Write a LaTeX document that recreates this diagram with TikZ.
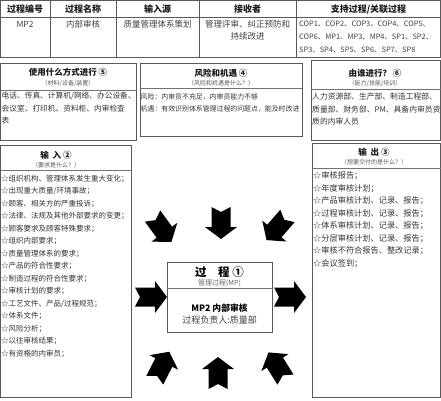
\documentclass[tikz,border=0pt]{standalone}
\usepackage{fontspec}
\setmainfont{Noto Sans CJK SC}
\tikzset{
 frame/.style={draw=black!65, line width=0.7pt},
 sep/.style={draw=black!55, line width=0.5pt},
 hd/.style={font=\fontsize{9}{10}\selectfont\bfseries, text=black!90, inner sep=0},
 cell/.style={font=\fontsize{8.5}{10}\selectfont, text=black!75, inner sep=0},
 copt/.style={font=\fontsize{7.4}{9}\selectfont, text=black!75, inner sep=0, anchor=west},
 ttl/.style={font=\fontsize{8.5}{10}\selectfont\bfseries, text=black!90, inner sep=0},
 sub/.style={font=\fontsize{6}{7}\selectfont, text=black!65, inner sep=0},
 body/.style={text=black!80, anchor=west, inner sep=0},
 blockarrow/.pic={\fill[black] (-16,9.5) -- (4,9.5) -- (4,16) -- (16,0) -- (4,-16) -- (4,-9.5) -- (-16,-9.5) -- (-11,0) -- cycle;}
}
\begin{document}
\begin{tikzpicture}[x=1pt,y=-1pt]
\useasboundingbox (0,0) rectangle (441,400);
% ---------- top table ----------
\draw[frame] (0.5,0.5) rectangle (440.5,57);
\draw[frame] (0.5,17) -- (440.5,17);
\foreach \cx in {50,116,199,296} \draw[frame] (\cx,0.5) -- (\cx,57);
\node[hd] (h1) at (25,9) {过程编号};
\node[hd] (h2) at (83,9) {过程名称};
\node[hd] (h3) at (157.5,9) {输入源};
\node[hd] (h4) at (247.5,9) {接收者};
\node[hd] (h5) at (368.5,9) {支持过程/关联过程};
\node[cell] (c1) at (25,24) {MP2};
\node[cell] (c2) at (83,24) {内部审核};
\node[cell] (c3) at (157.5,24) {质量管理体系策划};
\node[cell] (c4a) at (247.5,24) {管理评审、纠正预防和};
\node[cell] (c4b) at (247.5,36) {持续改进};
\node[copt] (c5a) at (299,24) {COP1、COP2、COP3、COP4、COP5、};
\node[copt] (c5b) at (299,37) {COP6、MP1、MP3、MP4、SP1、SP2、};
\node[copt] (c5c) at (299,50) {SP3、SP4、SP5、SP6、SP7、SP8};
% ---------- box 5 ----------
\draw[frame] (0.5,63) rectangle (136,140);
\draw[sep] (0.5,90) -- (136,90);
\node[ttl] (t5) at (68,72) {使用什么方式进行 ⑤};
\node[sub] (s5) at (68,83) {（材料/设备/装置）};
\begin{scope}[every node/.append style={body, font=\fontsize{7.7}{9}\selectfont}]
\node (b5a) at (1.5,96) {电话、传真、计算机/网络、办公设备、};
\node (b5b) at (1.5,108.5) {会议室、打印机、资料柜、内审检查};
\node (b5c) at (1.5,121) {表};
\end{scope}
% ---------- box 4 ----------
\draw[frame] (140,63) rectangle (302,136);
\draw[sep] (140,88) -- (302,88);
\node[ttl] (t4) at (221,73) {风险和机遇 ④};
\node[sub] (s4) at (221,83) {（风险和机遇是什么？）};
\begin{scope}[every node/.append style={body, font=\fontsize{6.9}{8}\selectfont}]
\node (b4a) at (140.5,97) {风险：内审员不充足，内审员能力不够};
\node (b4b) at (140.5,108.5) {机遇：有效识别体系管理过程的问题点，能及时改进};
\end{scope}
% ---------- box 6 ----------
\draw[frame] (311,60) rectangle (440.5,140);
\draw[sep] (311,89) -- (440.5,89);
\node[ttl] (t6) at (375,73) {由谁进行？ ⑥};
\node[sub] (s6) at (375,83) {（能力/技能/培训）};
\begin{scope}[every node/.append style={body, font=\fontsize{7.8}{9}\selectfont}]
\node (b6a) at (312,97) {人力资源部、生产部、制造工程部、};
\node (b6b) at (312,109.5) {质量部、财务部、PM、具备内审员资};
\node (b6c) at (312,122) {质的内审人员};
\end{scope}
% ---------- input box ----------
\draw[frame] (0.5,145) rectangle (131,397);
\draw[sep] (0.5,170) -- (131,170);
\node[ttl] (t2) at (56,155) {输\ \ 入 ②};
\node[sub] (s2) at (56,165) {（要求是什么？）};
\begin{scope}[every node/.append style={body, font=\fontsize{7.5}{9}\selectfont}]
\foreach \txt [count=\i from 0] in {☆组织机构、管理体系发生重大变化；,☆出现重大质量/环境事故；,☆顾客、相关方的严重投诉；,☆法律、法规及其他外部要求的变更；,☆顾客要求及顾客特殊要求；,☆组织内部要求；,☆质量管理体系的要求；,☆产品的符合性要求；,☆制造过程的符合性要求；,☆审核计划的要求；,☆工艺文件、产品/过程规范；,☆体系文件；,☆风险分析；,☆以往审核结果；,☆有资格的内审员；}
  \node (in\i) at (1,178.5+12.5*\i) {\txt};
\end{scope}
% ---------- output box ----------
\draw[frame] (312,143) rectangle (440.5,397);
\draw[sep] (312,168) -- (440.5,168);
\node[ttl] (t3) at (374,152) {输\ \ 出 ③};
\node[sub] (s3) at (374,162) {（想要交付的是什么？）};
\begin{scope}[every node/.append style={body, font=\fontsize{8.2}{9}\selectfont}]
\foreach \txt [count=\i from 0] in {☆审核报告；,☆年度审核计划；,☆产品审核计划、记录、报告；,☆过程审核计划、记录、报告；,☆体系审核计划、记录、报告；,☆分层审核计划、记录、报告；,☆审核不符合报告、整改记录；,☆会议签到；}
  \node (out\i) at (313,176+12.5*\i) {\txt};
\end{scope}
% ---------- process box ----------
\draw[frame] (167,262) rectangle (272,332);
\draw[sep] (167,288) -- (272,288);
\node[inner sep=0, font=\fontsize{11.5}{13}\selectfont\bfseries] (p1) at (219.5,272) {过\quad 程\ ①};
\node[inner sep=0, font=\fontsize{7}{8}\selectfont, text=black!60] (p2) at (219.5,283) {管理过程(MP)};
\node[inner sep=0, font=\fontsize{8.8}{10}\selectfont\bfseries] (p3) at (219.5,308) {MP2\ 内部审核};
\node[inner sep=0, font=\fontsize{9}{10}\selectfont, text=black!75] (p4) at (219.5,320) {过程负责人:质量部};
% ---------- arrows ----------
\pic[rotate=-54] at (162,229) {blockarrow};
\pic[rotate=-90] at (221,223) {blockarrow};
\pic[rotate=-131] at (277,228) {blockarrow};
\pic at (151,297) {blockarrow};
\pic at (290,297) {blockarrow};
\pic[rotate=63] at (162,366) {blockarrow};
\pic[rotate=90] at (218,373) {blockarrow};
\pic[rotate=122] at (277,366) {blockarrow};
\end{tikzpicture}
\end{document}
